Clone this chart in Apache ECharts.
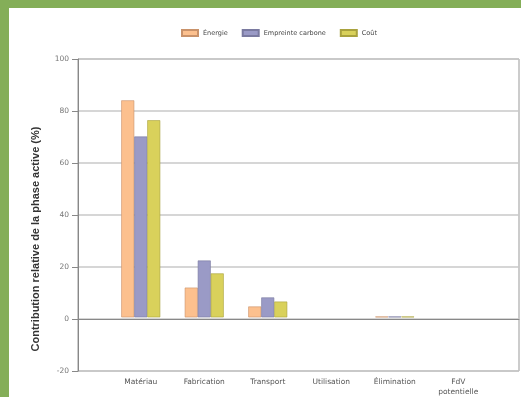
<!DOCTYPE html>
<html><head><meta charset="utf-8">
<script src="https://cdn.jsdelivr.net/npm/echarts@6/dist/echarts.min.js"></script>
<style>html,body{margin:0;padding:0;background:#84AE58;}#c{width:521px;height:397px;}</style>
</head><body><div id="c"></div>
<script>
const categories = ['Matériau','Fabrication','Transport','Utilisation','Élimination','FdV\npotentielle'];
const seriesNames = ['Énergie','Empreinte carbone','Coût'];
const energie = [84, 11.5, 4.2, 0, 0.3, 0];
const empreinte = [70, 22, 7.7, 0, 0.3, 0];
const cout = [76.3, 17, 6.1, 0, 0.3, 0];
const yTicks = {min: -20, max: 100, interval: 20};
const yTitle = 'Contribution relative de la phase active (%)';

const colors = ['#FCC08E','#9A9AC6','#D9D15B'];
const borders = ['#C9926A','#7A7AA0','#A9A23E'];
const chart = echarts.init(document.getElementById('c'));
const vals = [energie, empreinte, cout];
chart.setOption({
  animation: false,
  backgroundColor: 'transparent',
  textStyle: {fontFamily: '"DejaVu Sans", sans-serif'},
  graphic: [
    {type:'rect', z:-10, shape:{x:9,y:8,width:520,height:400}, style:{fill:'#fff'}},
    {type:'text', rotation: Math.PI/2, position:[36, 239],
     style:{text: yTitle, fill:'#333', font:'bold 11px "Liberation Sans", Arial, sans-serif', align:'center', verticalAlign:'middle'}}
  ],
  legend: {
    data: seriesNames, top: 24, left: 176, itemWidth: 16, itemHeight: 6, itemGap: 14,
    textStyle: {fontSize: 6.5, color: '#444'}, icon: 'rect'
  },
  grid: [
    {left: 78, right: 2, top: 59, bottom: 26, show: true, borderColor: '#999', borderWidth: 1, backgroundColor: 'transparent'},
    {left: 109, right: 31, top: 59, bottom: 26}
  ],
  xAxis: [
    {gridIndex: 0, type: 'value', min: 0, max: 1, axisLabel:{show:false}, axisTick:{show:false}, splitLine:{show:false},
     axisLine:{show:true, onZero:true, lineStyle:{color:'#888', width:1}}},
    {gridIndex: 1, type: 'category', data: categories, axisLine:{show:false}, axisTick:{show:false},
     axisLabel:{fontSize:7.5, color:'#555', margin: 8, interval: 0, lineHeight: 10}}
  ],
  yAxis: [
    {gridIndex: 0, type: 'value', min: yTicks.min, max: yTicks.max, interval: yTicks.interval,
     axisLine:{show:true, lineStyle:{color:'#888'}}, axisTick:{show:true, length:6, lineStyle:{color:'#888'}},
     axisLabel:{fontSize:7.5, color:'#777', margin:9},
     splitLine:{show:true, lineStyle:{color:'#c8c8c8', width:1.5}}},
    {gridIndex: 1, type: 'value', min: yTicks.min, max: yTicks.max, interval: yTicks.interval, show: false, splitLine:{show:false}}
  ],
  series: seriesNames.map((n, i) => ({
    name: n, type: 'bar', xAxisIndex: 1, yAxisIndex: 1,
    data: vals[i].map(v => v === 0 ? {value: v, itemStyle: {borderWidth: 0}} : v),
    barWidth: 13, barGap: '0%',
    itemStyle: {color: colors[i], borderColor: borders[i], borderWidth: 0.6}
  })),
  color: colors
});
</script></body></html>
